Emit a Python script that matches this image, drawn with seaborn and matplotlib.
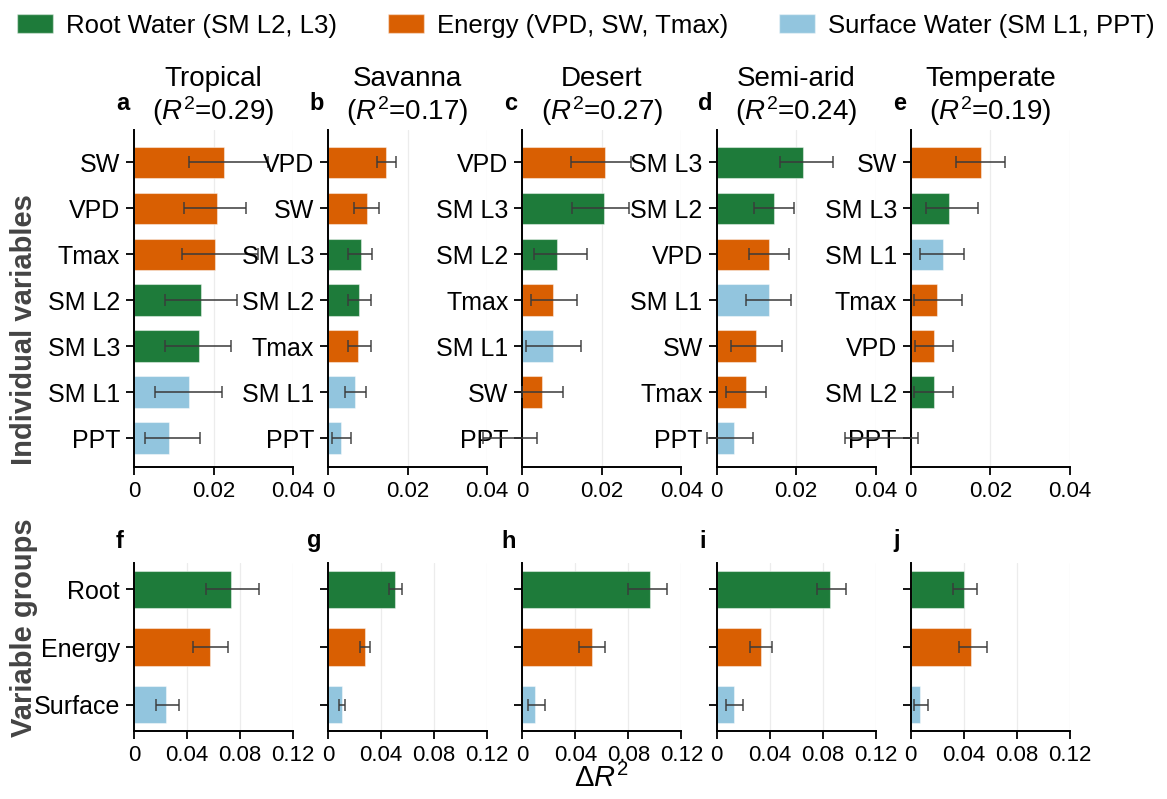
import numpy as np
import pandas as pd
import matplotlib
matplotlib.use("Agg")
import matplotlib.pyplot as plt
import seaborn as sns
from matplotlib.patches import Patch

sns.set_theme(style="ticks")
plt.rcParams["font.family"] = ["Liberation Sans", "DejaVu Sans"]
plt.rcParams["mathtext.fontset"] = "custom"
plt.rcParams["mathtext.rm"] = "Liberation Sans"
plt.rcParams["mathtext.it"] = "Liberation Sans:italic"
plt.rcParams["text.color"] = "black"
plt.rcParams["axes.labelcolor"] = "black"

# ---------------- data ----------------
biomes = ["Tropical", "Savanna", "Desert", "Semi-arid", "Temperate"]
biome_r2 = [0.29, 0.17, 0.27, 0.24, 0.19]
top_letters = ["a", "b", "c", "d", "e"]
bottom_letters = ["f", "g", "h", "i", "j"]

# individual variables (ordered as drawn, top to bottom): mean dR2 and interval bounds
tropical_vars = ["SW", "VPD", "Tmax", "SM L2", "SM L3", "SM L1", "PPT"]
tropical_dr2 = [0.0226, 0.0210, 0.0204, 0.0169, 0.0164, 0.0138, 0.0089]
tropical_lo = [0.0139, 0.0125, 0.0120, 0.0078, 0.0078, 0.0052, 0.0027]
tropical_hi = [0.0337, 0.0282, 0.0312, 0.0260, 0.0243, 0.0221, 0.0166]

savanna_vars = ["VPD", "SW", "SM L3", "SM L2", "Tmax", "SM L1", "PPT"]
savanna_dr2 = [0.0145, 0.0097, 0.0082, 0.0078, 0.0075, 0.0067, 0.0031]
savanna_lo = [0.0122, 0.0066, 0.0051, 0.0051, 0.0050, 0.0042, 0.0010]
savanna_hi = [0.0171, 0.0127, 0.0110, 0.0107, 0.0108, 0.0095, 0.0057]

desert_vars = ["VPD", "SM L3", "SM L2", "Tmax", "SM L1", "SW", "PPT"]
desert_dr2 = [0.0209, 0.0206, 0.0088, 0.0078, 0.0077, 0.0050, -0.0030]
desert_lo = [0.0122, 0.0125, 0.0030, 0.0022, 0.0010, -0.0002, -0.0100]
desert_hi = [0.0272, 0.0267, 0.0162, 0.0138, 0.0147, 0.0102, 0.0036]

semiarid_vars = ["SM L3", "SM L2", "VPD", "SM L1", "SW", "Tmax", "PPT"]
semiarid_dr2 = [0.0218, 0.0144, 0.0133, 0.0131, 0.0100, 0.0073, 0.0043]
semiarid_lo = [0.0159, 0.0094, 0.0082, 0.0074, 0.0037, 0.0024, -0.0025]
semiarid_hi = [0.0294, 0.0195, 0.0182, 0.0188, 0.0164, 0.0125, 0.0091]

temperate_vars = ["SW", "SM L3", "SM L1", "Tmax", "VPD", "SM L2", "PPT"]
temperate_dr2 = [0.0176, 0.0095, 0.0081, 0.0067, 0.0058, 0.0058, -0.0075]
temperate_lo = [0.0113, 0.0039, 0.0022, 0.0009, 0.0011, 0.0008, -0.0166]
temperate_hi = [0.0238, 0.0170, 0.0134, 0.0129, 0.0107, 0.0107, 0.0017]

# variable groups
groups = ["Root", "Energy", "Surface"]
tropical_grp = [0.0733, 0.0577, 0.0243]
tropical_grp_lo = [0.0545, 0.0446, 0.0165]
tropical_grp_hi = [0.0942, 0.0710, 0.0339]
savanna_grp = [0.0507, 0.0275, 0.0101]
savanna_grp_lo = [0.0458, 0.0241, 0.0078]
savanna_grp_hi = [0.0557, 0.0319, 0.0128]
desert_grp = [0.0966, 0.0525, 0.0092]
desert_grp_lo = [0.0799, 0.0427, 0.0043]
desert_grp_hi = [0.1093, 0.0623, 0.0170]
semiarid_grp = [0.0858, 0.0333, 0.0130]
semiarid_grp_lo = [0.0759, 0.0252, 0.0070]
semiarid_grp_hi = [0.0977, 0.0417, 0.0203]
temperate_grp = [0.0404, 0.0453, 0.0072]
temperate_grp_lo = [0.0317, 0.0363, 0.0026]
temperate_grp_hi = [0.0502, 0.0574, 0.0133]

var_group = {"SM L2": "Root", "SM L3": "Root",
             "VPD": "Energy", "SW": "Energy", "Tmax": "Energy",
             "SM L1": "Surface", "PPT": "Surface"}
palette = {"Root": "#1e7b3a", "Energy": "#d95f02", "Surface": "#92c5de"}
legend_labels = ["Root Water (SM L2, L3)", "Energy (VPD, SW, Tmax)",
                 "Surface Water (SM L1, PPT)"]

top_xticks = [0, 0.02, 0.04]
top_xticklabels = ["0", "0.02", "0.04"]
bot_xticks = [0, 0.04, 0.08, 0.12]
bot_xticklabels = ["0", "0.04", "0.08", "0.12"]

indiv = [
    (tropical_vars, tropical_dr2, tropical_lo, tropical_hi),
    (savanna_vars, savanna_dr2, savanna_lo, savanna_hi),
    (desert_vars, desert_dr2, desert_lo, desert_hi),
    (semiarid_vars, semiarid_dr2, semiarid_lo, semiarid_hi),
    (temperate_vars, temperate_dr2, temperate_lo, temperate_hi),
]
grouped = [
    (tropical_grp, tropical_grp_lo, tropical_grp_hi),
    (savanna_grp, savanna_grp_lo, savanna_grp_hi),
    (desert_grp, desert_grp_lo, desert_grp_hi),
    (semiarid_grp, semiarid_grp_lo, semiarid_grp_hi),
    (temperate_grp, temperate_grp_lo, temperate_grp_hi),
]

# ---------------- figure ----------------
W, H = 1167, 799
fig = plt.figure(figsize=(W / 100, H / 100), dpi=100)

def px_axes(x0, y0, x1, y1):
    return fig.add_axes([x0 / W, 1 - y1 / H, (x1 - x0) / W, (y1 - y0) / H])

ERR_KW = dict(fmt="none", ecolor="#3a3a3a", elinewidth=1.3, capsize=4,
              capthick=1.2, alpha=0.85, clip_on=False, zorder=5)

def style_axes(ax, xticks, xticklabels, xmax):
    ax.set_xlim(0, xmax)
    ax.set_xticks(xticks)
    ax.set_xticklabels(xticklabels)
    ax.grid(axis="x", color="#ececec", linewidth=0.9)
    ax.set_axisbelow(True)
    for s in ("top", "right"):
        ax.spines[s].set_visible(False)
    for s in ("left", "bottom"):
        ax.spines[s].set_linewidth(1.4)
        ax.spines[s].set_color("black")
    ax.tick_params(axis="both", length=6, width=1.3, colors="black", pad=4)
    ax.tick_params(axis="x", labelsize=16)
    ax.tick_params(axis="y", labelsize=18)
    ax.set_xlabel("")
    ax.set_ylabel("")

left0, step, width = 134, 194.2, 159

for i in range(5):
    x0 = left0 + i * step
    # individual variables
    ax = px_axes(x0, 130, x0 + width, 467)
    names, vals, lo, hi = indiv[i]
    df = pd.DataFrame({"var": names, "dr2": vals,
                       "group": [var_group[n] for n in names]})
    sns.barplot(data=df, x="dr2", y="var", hue="group", order=names,
                hue_order=groups, palette=palette, dodge=False, width=0.68,
                saturation=1, errorbar=None, legend=False, ax=ax,
                edgecolor=(1, 1, 1, 0.45), linewidth=0.8)
    v = np.array(vals)
    ax.errorbar(v, np.arange(len(v)),
                xerr=[v - np.array(lo), np.array(hi) - v], **ERR_KW)
    style_axes(ax, top_xticks, top_xticklabels, 0.04)
    ax.set_ylim(6.63, -0.7)
    ax.set_title(f"{biomes[i]}\n($R^2$=" + f"{biome_r2[i]:.2f})",
                 fontsize=20, pad=7, linespacing=1.1)
    fig.text((x0 - 11.5) / W, 1 - 103 / H, top_letters[i], fontsize=17,
             fontweight="bold", ha="center", va="center")

    # variable groups
    axb = px_axes(x0, 563, x0 + width, 731)
    gv, glo, ghi = grouped[i]
    dfg = pd.DataFrame({"grp": groups, "dr2": gv})
    sns.barplot(data=dfg, x="dr2", y="grp", hue="grp", order=groups,
                hue_order=groups, palette=palette, dodge=False, width=0.64,
                saturation=1, errorbar=None, legend=False, ax=axb,
                edgecolor=(1, 1, 1, 0.45), linewidth=0.8)
    g = np.array(gv)
    axb.errorbar(g, np.arange(len(g)),
                 xerr=[g - np.array(glo), np.array(ghi) - g], **ERR_KW)
    style_axes(axb, bot_xticks, bot_xticklabels, 0.12)
    axb.set_ylim(2.45, -0.45)
    if i > 0:
        axb.set_yticklabels([])
    fig.text((x0 - 14) / W, 1 - 541 / H, bottom_letters[i], fontsize=17,
             fontweight="bold", ha="center", va="center")

fig.text(24 / W, 1 - 330 / H, "Individual variables", rotation=90,
         fontsize=21, fontweight="bold", color="#444444",
         ha="center", va="center")
fig.text(24 / W, 1 - 628 / H, "Variable groups", rotation=90,
         fontsize=21, fontweight="bold", color="#444444",
         ha="center", va="center")
fig.text(601 / W, 1 - 778 / H, r"$\Delta R^2$", fontsize=21,
         ha="center", va="center")

handles = [Patch(facecolor=palette[g], edgecolor=(1, 1, 1, 0.45))
           for g in groups]
fig.legend(handles, legend_labels, loc="upper center",
           bbox_to_anchor=(0.502, 1.012), ncol=3, frameon=False,
           fontsize=18.5, handlelength=1.4, handleheight=0.75,
           handletextpad=0.5, columnspacing=2.0)

fig.savefig("out.png", dpi=100)
